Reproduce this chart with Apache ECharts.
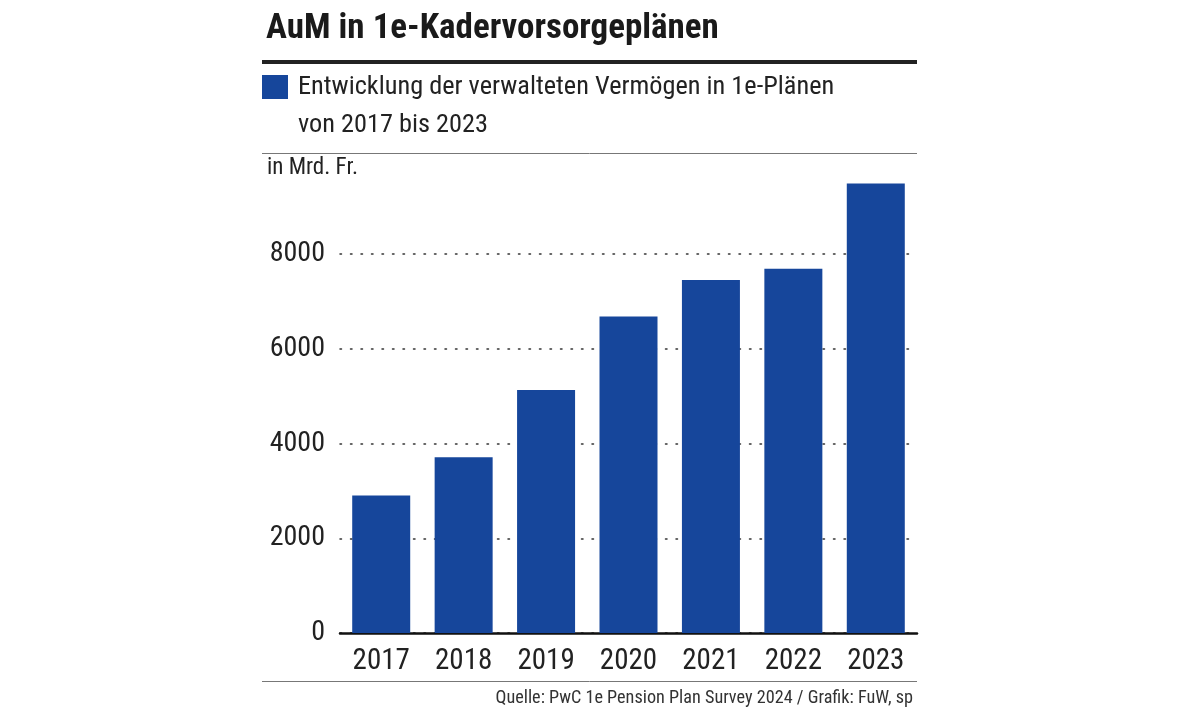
<!DOCTYPE html>
<html>
<head>
<meta charset="utf-8">
<script src="https://cdn.jsdelivr.net/npm/echarts@6/dist/echarts.min.js"></script>
<style>
  html, body { margin: 0; padding: 0; background: #fff; }
  #chart { width: 1179px; height: 713px; }
</style>
</head>
<body>
<div id="chart"></div>
<script>
const years = ["2017", "2018", "2019", "2020", "2021", "2022", "2023"];
const aum = [2900, 3710, 5130, 6680, 7450, 7690, 9490];
const yTicks = [0, 2000, 4000, 6000, 8000];

const FONT = '"Roboto Condensed", "Liberation Sans Narrow", "DejaVu Sans Condensed", Roboto, sans-serif';
const BLUE = "#16469b";

const chart = echarts.init(document.getElementById("chart"));
chart.setOption({
  animation: false,
  backgroundColor: "#fff",
  textStyle: { fontFamily: FONT },
  title: [
    {
      text: "AuM in 1e-Kadervorsorgeplänen",
      left: 266,
      top: 12,
      padding: 0,
      textStyle: { fontFamily: FONT, fontSize: 35, fontWeight: "bold", color: "#1a1a1a" },
    },
    {
      text: "von 2017 bis 2023",
      left: 298,
      top: 112,
      padding: 0,
      textStyle: { fontFamily: FONT, fontSize: 26.3, fontWeight: "normal", color: "#222" },
    },
    {
      text: "in Mrd. Fr.",
      left: 267,
      top: 157,
      padding: 0,
      textStyle: { fontFamily: FONT, fontSize: 23, fontWeight: "normal", color: "#222" },
    },
    {
      text: "Quelle: PwC 1e Pension Plan Survey 2024 / Grafik: FuW, sp",
      right: 266,
      top: 689,
      padding: 0,
      textStyle: { fontFamily: FONT, fontSize: 18.2, fontWeight: "normal", color: "#333" },
    },
  ],
  legend: {
    left: 262,
    top: 74,
    padding: 0,
    icon: "rect",
    itemWidth: 26,
    itemHeight: 24,
    textStyle: { fontFamily: FONT, fontSize: 26.3, color: "#222", padding: [0, 0, 0, 5] },
    data: ["Entwicklung der verwalteten Vermögen in 1e-Plänen"],
  },
  graphic: [
    { type: "line", shape: { x1: 262, y1: 62, x2: 917, y2: 62 }, style: { stroke: "#222", lineWidth: 4 } },
    { type: "line", shape: { x1: 262, y1: 153.5, x2: 917, y2: 153.5 }, style: { stroke: "#777", lineWidth: 1 } },
    { type: "line", shape: { x1: 262, y1: 681.5, x2: 917, y2: 681.5 }, style: { stroke: "#777", lineWidth: 1 } },
  ],
  grid: { left: 340, right: 262, top: 254, bottom: 80 },
  xAxis: {
    type: "category",
    data: years,
    axisLine: { lineStyle: { color: "#111", width: 2.5 } },
    axisTick: { show: false },
    axisLabel: { fontFamily: FONT, fontSize: 29, color: "#222", margin: 14 },
  },
  yAxis: {
    type: "value",
    min: yTicks[0],
    max: yTicks[yTicks.length - 1],
    interval: 2000,
    axisLine: { show: false },
    axisTick: { show: false },
    axisLabel: {
      fontFamily: FONT,
      fontSize: 28,
      color: "#222",
      margin: 15,
      formatter: (v) => String(v),
    },
    splitLine: { lineStyle: { color: "#333", width: 1.5, type: [1.5, 9], cap: "round" } },
  },
  series: [
    {
      name: "Entwicklung der verwalteten Vermögen in 1e-Plänen",
      type: "bar",
      data: aum,
      clip: false,
      barWidth: 58,
      itemStyle: { color: BLUE },
    },
  ],
});
</script>
</body>
</html>
